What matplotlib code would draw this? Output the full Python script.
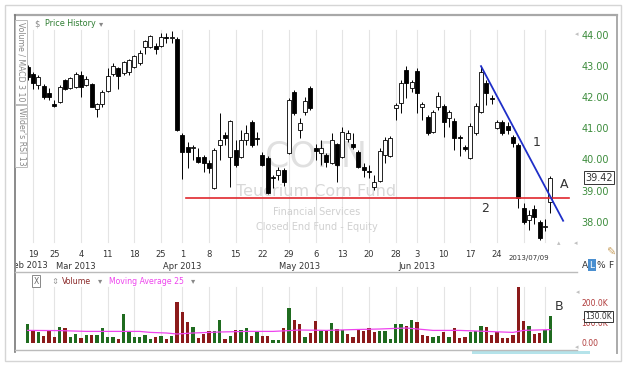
import numpy as np
import matplotlib
matplotlib.use('Agg')
import matplotlib.pyplot as plt
from matplotlib.lines import Line2D
from matplotlib.patches import Rectangle
from matplotlib.transforms import Bbox, TransformedBbox

# trading day index: 0 = 2013-02-19, 97 = 2013-07-09
days = list(range(-1, 98))

opens = [42.97, 42.75, 42.39, 42.36, 42.14, 41.78, 41.85, 42.55, 42.30, 42.33,
         42.71, 42.39, 42.42, 41.62, 41.78, 42.20, 42.75, 42.94, 42.78, 42.81,
         42.97, 43.10, 43.61, 43.61, 43.65, 43.65, 43.94, 43.90, 43.87, 40.78,
         40.40, 40.37, 40.08, 40.08, 39.88, 39.08, 40.46, 40.78, 40.08, 40.30,
         40.08, 40.62, 41.20, 40.70, 40.14, 40.05, 39.44, 39.50, 39.66, 40.21,
         42.17, 40.95, 41.52, 42.30, 40.37, 40.21, 40.14, 39.88, 40.50, 40.08,
         40.65, 40.50, 40.24, 39.76, 39.62, 39.11, 39.31, 40.14, 40.11, 41.65,
         41.81, 42.87, 42.30, 42.84, 41.68, 41.36, 40.88, 41.68, 41.72, 41.33,
         41.23, 40.72, 40.40, 40.04, 40.85, 41.52, 42.46, 41.96, 41.01, 41.20,
         41.07, 40.72, 40.46, 38.44, 38.05, 38.40, 37.99, 37.83, 38.63]
highs = [43.04, 42.81, 42.71, 42.42, 42.30, 41.91, 42.39, 42.59, 42.65, 42.81,
         42.84, 42.68, 42.46, 41.81, 42.23, 42.94, 43.10, 42.97, 43.16, 43.23,
         43.36, 43.52, 43.84, 44.00, 43.74, 44.06, 44.06, 44.13, 43.94, 40.85,
         40.56, 40.46, 40.37, 40.14, 39.98, 40.37, 41.49, 40.88, 41.27, 40.62,
         40.95, 41.11, 41.27, 40.88, 40.24, 40.11, 39.50, 39.76, 39.72, 41.97,
         42.23, 41.33, 42.01, 42.36, 40.50, 40.62, 40.21, 40.85, 40.53, 41.04,
         40.95, 40.85, 40.30, 39.88, 39.82, 39.50, 40.37, 40.72, 40.75, 41.81,
         42.55, 43.00, 42.55, 42.94, 41.85, 41.43, 41.59, 42.17, 41.78, 41.59,
         41.33, 40.78, 40.46, 41.17, 41.81, 42.97, 42.55, 42.07, 41.27, 41.27,
         41.20, 40.78, 40.53, 38.60, 38.37, 38.53, 38.05, 38.08, 39.47]
lows = [42.55, 42.26, 42.26, 41.94, 41.91, 41.68, 41.81, 42.23, 42.26, 42.30,
        42.01, 42.36, 41.69, 41.36, 41.69, 42.17, 42.68, 42.26, 42.71, 42.71,
        42.94, 43.04, 43.39, 43.58, 43.39, 43.61, 43.74, 43.74, 40.93, 39.37,
        39.72, 39.98, 39.88, 39.60, 39.56, 39.05, 39.98, 40.46, 39.11, 39.76,
        40.04, 40.46, 40.40, 40.46, 39.79, 38.89, 39.08, 39.34, 39.14, 40.17,
        41.43, 40.69, 41.43, 41.59, 39.98, 39.82, 39.76, 39.85, 39.27, 40.04,
        40.56, 40.33, 39.72, 39.44, 39.40, 39.02, 39.27, 39.88, 40.08, 41.27,
        41.49, 41.97, 42.17, 41.49, 41.27, 40.78, 40.85, 41.59, 40.72, 41.04,
        40.30, 40.11, 40.27, 40.01, 40.78, 41.49, 41.75, 41.78, 40.98, 40.78,
        40.82, 40.40, 38.44, 37.92, 37.73, 37.92, 37.41, 37.70, 38.27]
closes = [42.65, 42.46, 42.65, 42.01, 42.01, 41.72, 42.33, 42.26, 42.62, 42.75,
          42.33, 42.58, 41.69, 41.78, 42.17, 42.68, 43.00, 42.68, 43.13, 43.20,
          43.33, 43.42, 43.81, 43.97, 43.55, 43.94, 43.90, 43.94, 40.95, 40.24,
          40.24, 40.40, 39.92, 39.88, 39.72, 40.30, 40.62, 40.69, 41.23, 39.82,
          40.62, 40.85, 40.46, 40.67, 39.82, 38.92, 39.40, 39.66, 39.27, 41.91,
          41.49, 41.17, 41.88, 41.65, 40.27, 40.37, 39.92, 40.62, 39.82, 40.88,
          40.85, 40.40, 39.76, 39.66, 39.60, 39.27, 40.27, 40.62, 40.69, 41.75,
          42.46, 42.46, 42.49, 42.14, 41.78, 40.85, 41.52, 42.04, 41.20, 41.52,
          40.69, 40.70, 40.33, 41.07, 41.72, 42.81, 42.14, 41.94, 41.20, 40.85,
          40.95, 40.53, 38.76, 37.99, 38.21, 38.15, 37.47, 37.86, 39.42]

# volume in thousands, g = up day, r = down day
volumes = [97, 58, 53, 37, 58, 28, 78, 75, 28, 47,
           25, 42, 42, 42, 75, 30, 28, 22, 147, 58,
           30, 30, 42, 22, 28, 33, 20, 33, 205, 155,
           103, 80, 25, 47, 58, 58, 113, 22, 37, 63,
           67, 75, 37, 58, 37, 33, 17, 17, 75, 175,
           113, 95, 30, 50, 112, 58, 58, 100, 70, 63,
           47, 30, 70, 58, 75, 53, 58, 58, 22, 97,
           97, 83, 117, 105, 42, 37, 28, 37, 53, 30,
           75, 25, 30, 55, 58, 83, 78, 42, 53, 25,
           25, 42, 280, 112, 83, 45, 50, 67, 133]
vol_dir = list("grgrrrgrgg"
               "rgrggggrgg"
               "ggggrgrgrr"
               "rgrrrggrgr"
               "ggrgrrggrg"
               "rrgrrgrgrg"
               "rrrrrrgggg"
               "grgrrrggrg"
               "rrrgggrrrr"
               "rrrrgrrgg")

ma_days = [-1, 5, 10, 15, 20, 22, 25, 27, 30, 35, 40, 45, 48, 50, 55, 60,
           65, 70, 75, 80, 85, 90, 92, 97]
ma_vals = [63, 62, 58, 58, 58, 53, 50, 45, 50, 55, 58, 58, 62, 65, 63, 67,
           70, 75, 63, 63, 58, 53, 63, 67]

day_ticks = [0, 4, 9, 14, 19, 24, 28, 33, 38, 43, 48, 53, 58, 63, 68, 72, 77, 82, 87]
day_labels = ['19', '25', '4', '11', '18', '25', '1', '8', '15', '22', '29',
              '6', '13', '20', '28', '3', '10', '17', '24']
grid_days = day_ticks + [92, 96]
month_ticks = [8, 28, 50, 72]
month_labels = ['Mar 2013', 'Apr 2013', 'May 2013', 'Jun 2013']

support_level = 38.75
support_span = [28.7, 100.5]
trend_x = [84, 99.4]
trend_y = [43.0, 38.03]
last_close = 39.42

W, H = 635, 367


def fx(x):
    return x / W


def fy(y):
    return 1 - y / H


def fline(x0, y0, x1, y1, **kw):
    fig.add_artist(Line2D([fx(x0), fx(x1)], [fy(y0), fy(y1)],
                          transform=fig.transFigure, **kw))


fig = plt.figure(figsize=(W / 100, H / 100), dpi=100)
fig.patch.set_facecolor('white')

ax = fig.add_axes([fx(16), fy(245), fx(577) - fx(16), fy(17) - fy(245)])
axv = fig.add_axes([fx(16), fy(343), fx(577) - fx(16), fy(283) - fy(343)])

x = np.array(days)
o = np.array(opens)
c = np.array(closes)
up = c >= o

# price panel
for g in grid_days:
    ax.axvline(g, ymin=0.013, ymax=0.943, color='#e4e4e4', lw=0.8, zorder=0)
ax.vlines(x, lows, highs, color='black', lw=0.7, zorder=2)
ax.bar(x, np.maximum(np.abs(c - o), 0.02), bottom=np.minimum(o, c), width=0.74,
       color=np.where(up, 'white', 'black'), edgecolor='black', lw=0.6, zorder=3)

ax.plot(support_span, [support_level] * 2, color='#e0282e', lw=1.2, zorder=4)
ax.plot(trend_x, trend_y, color='#1f2fc8', lw=1.3, zorder=5)

ax.set_xlim(-3.19, 102.0)
ax.set_ylim(37.25, 44.58)
for s in ax.spines.values():
    s.set_visible(False)
ax.xaxis.remove_overlapping_locs = False
ax.set_xticks(day_ticks, day_labels)
ax.set_xticks(month_ticks, month_labels, minor=True)
ax.tick_params(axis='x', which='major', length=0, labelsize=6, pad=3.5, labelcolor='#333333')
ax.tick_params(axis='x', which='minor', length=0, labelsize=6, pad=12, labelcolor='#333333')
ax.yaxis.tick_right()
ax.set_yticks([38, 39, 40, 41, 42, 43, 44], ['%.2f' % v for v in range(38, 45)])
ax.tick_params(axis='y', length=0, pad=3, labelsize=7, labelcolor='#3c8c3c')

# watermark
wm = dict(transform=fig.transFigure, ha='center', va='center', zorder=0.5)
ax.text(fx(316), fy(156), 'CORN', fontsize=25, color='#e0e0e0', **wm)
ax.text(fx(316), fy(192), 'Teucrium Corn Fund', fontsize=11.5, color='#d8d8d8', **wm)
ax.text(fx(317), fy(212), 'Financial Services', fontsize=7, color='#d0d0d0', **wm)
ax.text(fx(317), fy(227), 'Closed End Fund - Equity', fontsize=7, color='#d0d0d0', **wm)

ax.text(94.5, 40.53, '1', fontsize=9, color='#333333', ha='center', va='center', zorder=6)
ax.text(84.75, 38.41, '2', fontsize=9, color='#333333', ha='center', va='center', zorder=6)
ax.text(99.6, 39.21, 'A', fontsize=9, color='#333333', ha='center', va='center', zorder=6)
ax.text(1.0143, last_close, '%.2f' % last_close, transform=ax.get_yaxis_transform(),
        fontsize=7, color='#333333', ha='left', va='center',
        bbox=dict(boxstyle='square,pad=0.15', fc='white', ec='#333333', lw=0.7))

# volume panel
for g in grid_days:
    axv.axvline(g, ymin=0, ymax=0.933, color='#e4e4e4', lw=0.8, zorder=0)
axv.bar(x, volumes, width=0.6, zorder=2,
        color=['#1f6b1f' if d == 'g' else '#8b1a1a' for d in vol_dir])
axv.plot(ma_days, ma_vals, color='#ee44ee', lw=0.9, zorder=3)
axv.set_xlim(-3.19, 102.0)
axv.set_ylim(0, 300)
for s in axv.spines.values():
    s.set_visible(False)
axv.set_xticks([])
axv.yaxis.tick_right()
axv.set_yticks([0, 100, 200], ['0.00', '100.0K', '200.0K'])
axv.tick_params(axis='y', length=0, pad=3, labelsize=5.5, labelcolor='#b03a3a')
axv.text(98.6, 185, 'B', fontsize=9, color='#333333', ha='center', va='center')
axv.text(1.0143, 133, '130.0K', transform=axv.get_yaxis_transform(), fontsize=5.5,
         color='#333333', ha='left', va='center', zorder=6,
         bbox=dict(boxstyle='square,pad=0.1', fc='white', ec='#333333', lw=0.7))

# frame
fig.add_artist(Rectangle((fx(5), fy(361)), fx(621) - fx(5), fy(5) - fy(361),
                         transform=fig.transFigure, fill=False, ec='#d5d5d5', lw=1))
fline(15, 15, 617, 15, color='#a8a8a8', lw=1.6)
fline(15, 15, 15, 352, color='#777777', lw=1.2)
fline(617, 15, 617, 353, color='#aaaaaa', lw=1.4)
fline(15, 272, 577, 272, color='#bbbbbb', lw=1)
fline(15, 350, 577, 350, color='#bbbbbb', lw=1)
fig.add_artist(Rectangle((fx(472), fy(354)), fx(590) - fx(472), fy(351) - fy(354),
                         transform=fig.transFigure, color='#b5e3ea', lw=0))

# headers and side tabs
fig.text(fx(37), fy(24), '$', color='#888888', fontsize=6, ha='center', va='center')
fig.text(fx(45), fy(24), 'Price History', color='#2e7d32', fontsize=5.8, ha='left', va='center')
fig.text(fx(101), fy(24), '▾', color='#888888', fontsize=6, ha='center', va='center')
tab = dict(rotation=-90, fontsize=5.6, color='#888888', ha='center', va='center',
           bbox=dict(boxstyle='square,pad=0.25', fc='white', ec='#bbbbbb', lw=0.7))
fig.text(fx(21), fy(62), 'Volume / MACD 3 10', **tab)
fig.text(fx(21), fy(136), "Wilder's RSI 13", **tab)

fig.text(fx(36), fy(281), 'X', color='#666666', fontsize=5.5, ha='center', va='center',
         bbox=dict(boxstyle='square,pad=0.2', fc='white', ec='#888888', lw=0.7))
fig.text(fx(55), fy(281), '⇕', color='#999999', fontsize=6, ha='center', va='center')
fig.text(fx(62), fy(281), 'Volume', color='#8b2a2a', fontsize=5.7, ha='left', va='center')
fig.text(fx(100), fy(281), '▾', color='#888888', fontsize=6, ha='center', va='center')
fig.text(fx(109), fy(281), 'Moving Average 25', color='#ee44ee', fontsize=5.6, ha='left', va='center')
fig.text(fx(193), fy(281), '▾', color='#888888', fontsize=6, ha='center', va='center')

feb = fig.text(fx(28), fy(265), 'Feb 2013', fontsize=6, color='#333333', ha='center', va='center')
feb.set_clip_box(TransformedBbox(Bbox([[fx(16), 0], [1, 1]]), fig.transFigure))
feb.set_clip_on(True)
fig.text(fx(529), fy(258), '2013/07/09', fontsize=5, color='#333333', ha='center', va='center')

fig.text(fx(585), fy(265), 'A', fontsize=6.5, color='#333333', ha='center', va='center')
fig.text(fx(592), fy(265), 'L', fontsize=6.5, color='white', ha='center', va='center',
         bbox=dict(boxstyle='square,pad=0.15', fc='#4a8fd0', ec='none'))
fig.text(fx(601), fy(265), '%', fontsize=6.5, color='#333333', ha='center', va='center')
fig.text(fx(611), fy(265), 'F', fontsize=6.5, color='#333333', ha='center', va='center')
fig.text(fx(611), fy(253), '✎', fontsize=8, color='#c8a060', ha='center', va='center')
for px, py, m in [(577, 34, '◂'), (576, 243, '◂'), (559, 243, '▴'), (578, 292, '◂'), (577, 347, '◂')]:
    fig.text(fx(px), fy(py), m, fontsize=5, color='#c0c0c0', ha='center', va='center')

fig.savefig('out.png', dpi=100)
